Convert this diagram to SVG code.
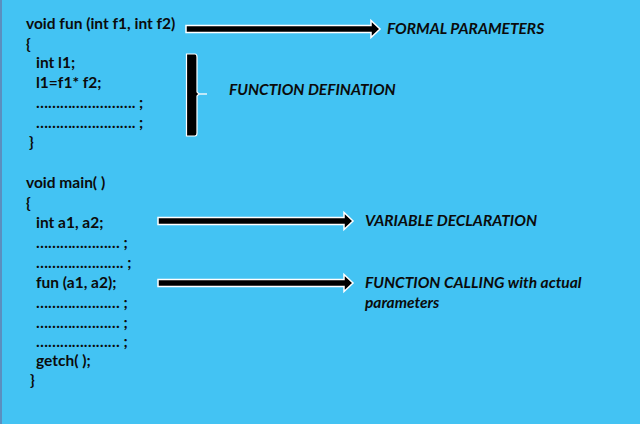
<svg xmlns="http://www.w3.org/2000/svg" width="640" height="424" viewBox="0 0 640 424">
<style>
.code{font-family:Lato,"Open Sans","Liberation Sans",sans-serif;font-weight:bold;font-size:15.5px;fill:#0b0b0b}
.lbl{font-family:Lato,"Open Sans","Liberation Sans",sans-serif;font-weight:bold;font-style:italic;font-size:15.5px;fill:#0b0b0b}
.arr{fill:#000;stroke:#fff;stroke-width:1.5}
</style>
<rect x="0" y="0" width="640" height="424" fill="#43C3F3"/>
<rect x="0" y="0" width="2" height="424" fill="#5a8fc0"/>
<g id="fun-code">
<text class="code" x="26" y="29">void fun (int f1, int f2)</text>
<text class="code" x="26" y="49">{</text>
<text class="code" x="36" y="68">int l1;</text>
<text class="code" x="36" y="88">l1=f1* f2;</text>
<text class="code" x="36" y="108">……………………. ;</text>
<text class="code" x="36" y="128">……………………. ;</text>
<text class="code" x="29" y="147">}</text>
</g>
<g id="main-code">
<text class="code" x="26" y="188">void main( )</text>
<text class="code" x="26" y="208">{</text>
<text class="code" x="36" y="228">int a1, a2;</text>
<text class="code" x="36" y="248">………………… ;</text>
<text class="code" x="36" y="268">…………………. ;</text>
<text class="code" x="36" y="288">fun (a1, a2);</text>
<text class="code" x="36" y="308">………………… ;</text>
<text class="code" x="36" y="328">………………… ;</text>
<text class="code" x="36" y="347">………………… ;</text>
<text class="code" x="36" y="366">getch( );</text>
<text class="code" x="30" y="385">}</text>
</g>
<g id="connectors">
<path class="arr" d="M186,25.5 H371 V20.5 L380,29 L371,37.5 V32.5 H186 Z"/>
<path class="arr" d="M158,217.5 H344 V212.5 L353,221 L344,229.5 V224.5 H158 Z"/>
<path class="arr" d="M158,279.5 H344 V274.5 L353,283 L344,291.5 V286.5 H158 Z"/>
<path d="M186.5,54 H195 Q197,54 197,57 V92 L199,94 L197,96 V133 Q197,136 195,136 H186.5 Z" fill="#000" stroke="#fff" stroke-width="1.2"/>
<line x1="198" y1="94" x2="207" y2="94" stroke="#e8f4fa" stroke-width="1.5"/>
</g>
<g id="formal-params"><text class="lbl" x="387" y="34">FORMAL PARAMETERS</text></g>
<g id="function-definition"><text class="lbl" x="229" y="95">FUNCTION DEFINATION</text></g>
<g id="variable-declaration"><text class="lbl" x="365" y="226">VARIABLE DECLARATION</text></g>
<g id="function-calling">
<text class="lbl" x="365" y="288">FUNCTION CALLING with actual</text>
<text class="lbl" x="365" y="308">parameters</text>
</g>
</svg>
